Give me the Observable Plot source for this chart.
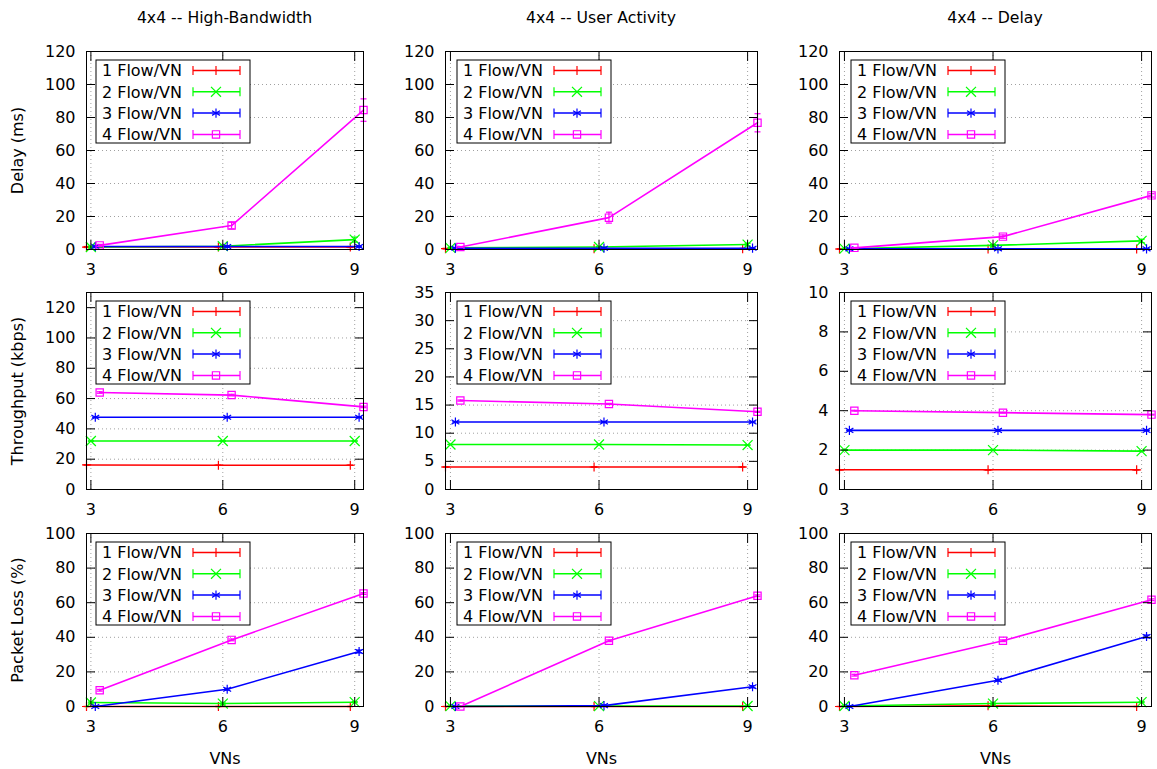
<!DOCTYPE html>
<html><head><meta charset="utf-8">
<script src="https://cdn.jsdelivr.net/npm/d3@7"></script>
<script src="https://cdn.jsdelivr.net/npm/@observablehq/plot@0.6"></script>
<style>
html,body{margin:0;padding:0;background:#fff;}
#root{position:relative;width:1157px;height:769px;overflow:hidden;font-family:"DejaVu Sans",sans-serif;color:#000;}
.panel{position:absolute;}
.panel svg{max-width:none;}
.title{position:absolute;top:8px;font-size:15.7px;line-height:20px;white-space:nowrap;transform:translateX(-50%);}
</style></head><body><div id="root"></div>
<script>
// ---------- data ----------
const vns = [3, 6, 9];
const seriesNames = ["1 Flow/VN", "2 Flow/VN", "3 Flow/VN", "4 Flow/VN"];
const seriesOffsets = [-0.1, 0, 0.1, 0.2];
const scenarioTitles = ["4x4 -- High-Bandwidth", "4x4 -- User Activity", "4x4 -- Delay"];
const metricLabels = ["Delay (ms)", "Throughput (kbps)", "Packet Loss (%)"];
const xLabel = "VNs";

// Delay (ms): [series][VN index]
const delayHB    = [[1.5, 1.5, 1.5], [1.5, 2, 6], [1.8, 1.8, 1.8], [2.5, 14.5, 84.5]];
const delayHBErr = [[0.3, 0.3, 0.3], [0.5, 0.5, 1.5], [0.3, 0.3, 0.3], [0.6, 2, 6.8]];
const delayUA    = [[0.5, 0.5, 0.5], [1, 1.5, 3], [0.8, 0.8, 0.8], [1.5, 19.3, 76.8]];
const delayUAErr = [[0.2, 0.2, 0.2], [0.3, 0.3, 0.8], [0.2, 0.2, 0.2], [0.3, 3.3, 5.5]];
const delayD     = [[0.3, 0.3, 0.3], [0.5, 2.5, 5.2], [0.4, 0.4, 0.4], [1, 7.8, 32.8]];
const delayDErr  = [[0.1, 0.1, 0.1], [0.2, 0.5, 1], [0.1, 0.1, 0.1], [0.2, 1, 1]];

// Throughput (kbps)
const thrHB    = [[16.2, 16, 16], [32, 32, 32], [47.7, 47.7, 47.7], [64, 62.3, 54.5]];
const thrHBErr = [[0, 0, 0], [0, 0, 0], [0, 0, 0], [0.5, 0.5, 0.5]];
const thrUA    = [[4, 4, 4], [8, 8, 7.9], [12, 12, 12], [15.8, 15.2, 13.8]];
const thrUAErr = [[0, 0, 0], [0, 0, 0], [0, 0, 0], [0.1, 0.1, 0.1]];
const thrD     = [[1, 1, 1], [2, 2, 1.95], [3, 3, 3], [4, 3.9, 3.8]];
const thrDErr  = [[0, 0, 0], [0, 0, 0], [0, 0, 0], [0.02, 0.02, 0.02]];

// Packet loss (%)
const lossHB    = [[0, 0, 0], [2.3, 1.7, 2.5], [0, 10, 31.8], [9.4, 38.5, 65.3]];
const lossHBErr = [[0, 0, 0], [0.3, 0.3, 0.3], [0, 0.5, 0.8], [0.5, 0.5, 0.5]];
const lossUA    = [[0, 0, 0], [0.2, 0.2, 0.3], [0, 0.5, 11.4], [0, 38, 64]];
const lossUAErr = [[0, 0, 0], [0.1, 0.1, 0.1], [0, 0.2, 0.6], [0, 0.5, 0.5]];
const lossD     = [[0, 0.4, 0], [0.3, 1.7, 2.5], [0, 15.2, 40.5], [18.1, 38, 61.7]];
const lossDErr  = [[0, 0, 0], [0.1, 0.3, 0.3], [0, 0.5, 0.8], [0.5, 0.5, 0.5]];

// axis bounds and ticks
const xDomain = [2.9, 9.2];
const delayTicks = [0, 20, 40, 60, 80, 100, 120];
const delayMax = 120;
const thrHBTicks = [0, 20, 40, 60, 80, 100, 120];
const thrHBMax = 130;
const thrUATicks = [0, 5, 10, 15, 20, 25, 30, 35];
const thrUAMax = 35;
const thrDTicks = [0, 2, 4, 6, 8, 10];
const thrDMax = 10;
const lossTicks = [0, 20, 40, 60, 80, 100];
const lossMax = 100;

// ---------- styles / layout ----------
const colors = ["#ff0000", "#00ff00", "#0000ff", "#ff00ff"];
const symbolNames = ["plus", "times", "asterisk", "square"];
const d3Symbols = [d3.symbolPlus, d3.symbolTimes, d3.symbolAsterisk, d3.symbolSquare];
const markerR = [3.0, 4.6, 4.3, 4.1];
const colFrames = [[86, 363], [445, 757], [839, 1151]];
const rowFrames = [[51, 249], [292, 489], [533, 706]];
const FONT = "DejaVu Sans, sans-serif";
const FS = 16;

const capSymbol = {
  draw(ctx, size) {
    const r = Math.sqrt(size / Math.PI);
    ctx.moveTo(-r, 0); ctx.lineTo(r, 0);
  }
};

const panels = [
  [[delayHB, delayHBErr, delayTicks, delayMax], [delayUA, delayUAErr, delayTicks, delayMax], [delayD, delayDErr, delayTicks, delayMax]],
  [[thrHB, thrHBErr, thrHBTicks, thrHBMax], [thrUA, thrUAErr, thrUATicks, thrUAMax], [thrD, thrDErr, thrDTicks, thrDMax]],
  [[lossHB, lossHBErr, lossTicks, lossMax], [lossUA, lossUAErr, lossTicks, lossMax], [lossD, lossDErr, lossTicks, lossMax]]
];

const root = document.getElementById("root");

scenarioTitles.forEach((t, c) => {
  const div = document.createElement("div");
  div.className = "title";
  div.style.left = ((colFrames[c][0] + colFrames[c][1]) / 2) + "px";
  div.textContent = t;
  root.appendChild(div);
});

for (let r = 0; r < 3; r++) {
  for (let c = 0; c < 3; c++) {
    const [values, errors, yTicks, yMax] = panels[r][c];
    const [x0, x1] = colFrames[c];
    const [y0, y1] = rowFrames[r];
    const mL = c === 0 ? 86 : 50;
    const mR = 8;
    const mT = 12;
    const mB = r === 2 ? 62 : 32;
    const W = x1 - x0 + mL + mR;
    const H = y1 - y0 + mT + mB;

    const rows = [];
    values.forEach((vals, s) => vals.forEach((v, j) => rows.push({s, x: vns[j] + seriesOffsets[s], y: v, e: errors[s][j]})));

    const grid = {stroke: "#a0a0a0", strokeOpacity: 1, strokeWidth: 1, strokeDasharray: "1,3"};
    const marks = [
      Plot.gridX(vns, grid),
      Plot.gridY(yTicks, grid)
    ];
    for (let s = 0; s < 4; s++) {
      const d = rows.filter(o => o.s === s);
      marks.push(
        Plot.ruleX(d, {x: "x", y1: o => o.y - o.e, y2: o => o.y + o.e, stroke: colors[s], strokeWidth: 1.2}),
        Plot.dot(d, {x: "x", y: o => o.y + o.e, symbol: capSymbol, r: 3, fill: "none", stroke: colors[s], strokeWidth: 1.2}),
        Plot.dot(d, {x: "x", y: o => o.y - o.e, symbol: capSymbol, r: 3, fill: "none", stroke: colors[s], strokeWidth: 1.2}),
        Plot.line(d, {x: "x", y: "y", stroke: colors[s], strokeWidth: 1.6}),
        Plot.dot(d, {x: "x", y: "y", symbol: symbolNames[s], r: markerR[s], fill: "none", stroke: colors[s], strokeWidth: 1.2})
      );
    }
    marks.push(
      Plot.frame({stroke: "#000", strokeWidth: 1}),
      Plot.axisY(yTicks, {anchor: "left", tickSize: -9, fill: "none", stroke: "#000"}),
      Plot.axisY(yTicks, {anchor: "right", tickSize: -9, fill: "none", stroke: "#000"}),
      Plot.axisX(vns, {anchor: "bottom", tickSize: -9, fill: "none", stroke: "#000"}),
      Plot.axisX(vns, {anchor: "top", tickSize: -9, fill: "none", stroke: "#000"}),
      Plot.axisY(yTicks, {anchor: "left", tickSize: 0, tickPadding: 11, fill: "#000",
        label: c === 0 ? metricLabels[r] : null, labelAnchor: "center", labelArrow: "none", labelOffset: 75}),
      Plot.axisX(vns, {anchor: "bottom", tickSize: 0, tickPadding: 14, fill: "#000",
        label: r === 2 ? xLabel : null, labelAnchor: "center", labelArrow: "none", labelOffset: 57})
    );

    const svg = Plot.plot({
      width: W, height: H,
      marginLeft: mL, marginRight: mR, marginTop: mT, marginBottom: mB,
      x: {domain: xDomain},
      y: {domain: [0, yMax]},
      style: {fontFamily: FONT, fontSize: FS + "px", color: "#000", background: "transparent", overflow: "visible"},
      marks
    });

    // legend (gnuplot-style key box)
    const lx = mL + (c === 0 ? 10 : 12);
    const ly = mT + 9;
    const g = d3.select(svg).append("g").attr("font-family", FONT).attr("font-size", FS);
    g.append("rect").attr("x", lx).attr("y", ly).attr("width", 154).attr("height", 83)
      .attr("fill", "#fff").attr("stroke", "#000").attr("stroke-width", 1);
    seriesNames.forEach((name, s) => {
      const yy = ly + 10.5 + s * 21.3;
      g.append("text").attr("x", lx + 86).attr("y", yy).attr("text-anchor", "end")
        .attr("dy", "0.36em").attr("fill", "#000").text(name);
      const a = lx + 97, b = lx + 144, m = lx + 120;
      const st = colors[s];
      g.append("line").attr("x1", a).attr("x2", b).attr("y1", yy).attr("y2", yy).attr("stroke", st).attr("stroke-width", 1.5);
      g.append("line").attr("x1", a).attr("x2", a).attr("y1", yy - 4.5).attr("y2", yy + 4.5).attr("stroke", st).attr("stroke-width", 1.2);
      g.append("line").attr("x1", b).attr("x2", b).attr("y1", yy - 4.5).attr("y2", yy + 4.5).attr("stroke", st).attr("stroke-width", 1.2);
      g.append("path").attr("transform", `translate(${m},${yy})`)
        .attr("d", d3.symbol(d3Symbols[s], Math.PI * markerR[s] * markerR[s])())
        .attr("fill", "none").attr("stroke", st).attr("stroke-width", 1.2);
    });

    const div = document.createElement("div");
    div.className = "panel";
    div.style.left = (x0 - mL) + "px";
    div.style.top = (y0 - mT) + "px";
    div.style.width = W + "px";
    div.style.height = H + "px";
    div.appendChild(svg);
    root.appendChild(div);
  }
}
</script></body></html>
